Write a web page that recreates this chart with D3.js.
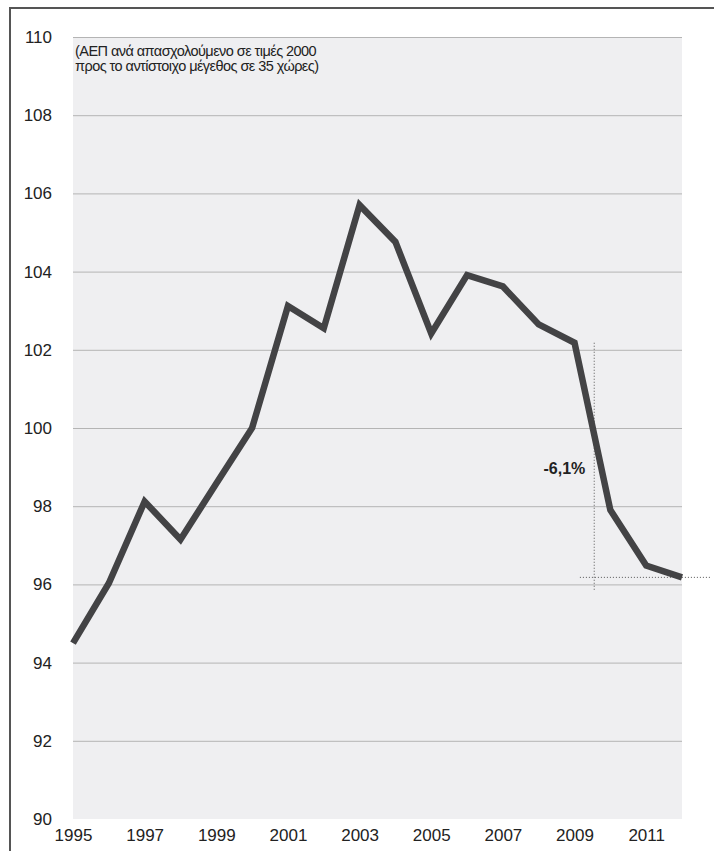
<!DOCTYPE html>
<html>
<head>
<meta charset="utf-8">
<script src="https://cdn.jsdelivr.net/npm/d3@7"></script>
<style>
  html, body { margin: 0; padding: 0; background: #fff; }
  svg { display: block; font-family: "Liberation Sans", Arial, Helvetica, sans-serif; }
</style>
</head>
<body>
<svg id="chart" width="714" height="851"></svg>
<script>
// ---- data ----
const years = [1995, 1996, 1997, 1998, 1999, 2000, 2001, 2002, 2003, 2004, 2005, 2006, 2007, 2008, 2009, 2010, 2011, 2012];
const values = [94.5, 96.03, 98.12, 97.15, 98.58, 100.0, 103.12, 102.55, 105.7, 104.76, 102.42, 103.91, 103.62, 102.65, 102.18, 97.9, 96.48, 96.18];
const yTicks = [90, 92, 94, 96, 98, 100, 102, 104, 106, 108, 110];
const xTicks = [1995, 1997, 1999, 2001, 2003, 2005, 2007, 2009, 2011];
const subtitleLines = ["(ΑΕΠ ανά απασχολούμενο σε τιμές 2000", "προς το αντίστοιχο μέγεθος σε 35 χώρες)"];
const dropLabel = "-6,1%";

// ---- layout ----
const svg = d3.select("#chart");
const pL = 73, pR = 682, pT = 37, pB = 819;

const x = d3.scaleLinear().domain([1995, 2012]).range([pL, pR]);
const y = d3.scaleLinear().domain([90, 110]).range([pB, pT]);

// frame
svg.append("line").attr("x1", 10).attr("x2", 10).attr("y1", 7).attr("y2", 851)
  .attr("stroke", "#555").attr("stroke-width", 2);
svg.append("line").attr("x1", 9).attr("x2", 714).attr("y1", 8).attr("y2", 8)
  .attr("stroke", "#555").attr("stroke-width", 2);

// plot background
svg.append("rect").attr("x", pL).attr("y", pT)
  .attr("width", pR - pL).attr("height", pB - pT)
  .attr("fill", "#efeff1");

// y axis with gridlines
const yAxis = svg.append("g").attr("transform", `translate(${pL},0)`)
  .call(d3.axisLeft(y).tickValues(yTicks).tickSize(-(pR - pL)).tickPadding(21).tickFormat(d3.format("d")));
yAxis.select(".domain").remove();
yAxis.selectAll(".tick line").attr("stroke", "#b4b4b4").attr("stroke-width", 1)
  .attr("opacity", d => d === 90 ? 0 : 1);
yAxis.selectAll(".tick text").attr("fill", "#222").attr("font-size", 17);

// x axis
const xAxis = svg.append("g").attr("transform", `translate(0,${pB})`)
  .call(d3.axisBottom(x).tickValues(xTicks).tickSize(0).tickPadding(10).tickFormat(d3.format("d")));
xAxis.select(".domain").remove();
xAxis.selectAll(".tick text").attr("fill", "#222").attr("font-size", 17);

// subtitle
const sub = svg.append("text").attr("x", pL + 2).attr("y", 56)
  .attr("fill", "#222").attr("font-size", 14.5).attr("letter-spacing", -0.55);
subtitleLines.forEach((t, i) => {
  sub.append("tspan").attr("x", pL + 2).attr("dy", i === 0 ? 0 : 15).text(t);
});

// annotation dotted lines
const i2009 = years.indexOf(2009);
const last = years.length - 1;
svg.append("line")
  .attr("x1", x(2009.55)).attr("x2", x(2009.55))
  .attr("y1", y(values[i2009])).attr("y2", y(95.85))
  .attr("stroke", "#555").attr("stroke-width", 1).attr("stroke-dasharray", "1,2");
svg.append("line")
  .attr("x1", x(2009.15)).attr("x2", 710)
  .attr("y1", y(values[last])).attr("y2", y(values[last]))
  .attr("stroke", "#555").attr("stroke-width", 1).attr("stroke-dasharray", "1,2");

// main line
const line = d3.line().x((d, i) => x(years[i])).y(d => y(d));
svg.append("path").datum(values)
  .attr("d", line)
  .attr("fill", "none")
  .attr("stroke", "#434345")
  .attr("stroke-width", 6.5)
  .attr("stroke-linejoin", "miter")
  .attr("stroke-miterlimit", 3);

// drop label
svg.append("text").attr("x", x(2009.3)).attr("y", y(98.82))
  .attr("text-anchor", "end").attr("font-weight", "bold")
  .attr("font-size", 16).attr("fill", "#222").text(dropLabel);
</script>
</body>
</html>
